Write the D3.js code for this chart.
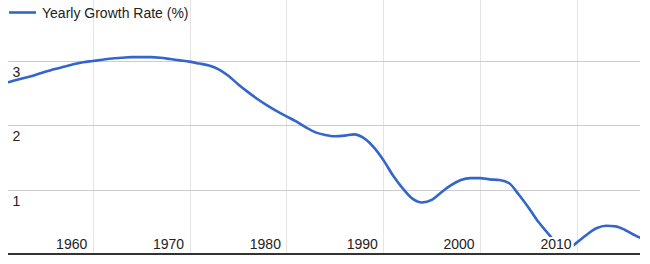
<!DOCTYPE html>
<html>
<head>
<meta charset="utf-8">
<script src="https://cdn.jsdelivr.net/npm/d3@7"></script>
<style>
  body { margin: 0; background: #fff; }
  text { font-family: Arial, "Liberation Sans", sans-serif; font-size: 14px; fill: #222; }
</style>
</head>
<body>
<svg id="chart" width="650" height="264"></svg>
<script>
const seriesName = "Yearly Growth Rate (%)";

const years = [
  1951, 1952, 1953, 1954, 1955, 1956, 1957, 1958, 1959, 1960,
  1961, 1962, 1963, 1964, 1965, 1966, 1967, 1968, 1969, 1970,
  1971, 1972, 1973, 1974, 1975, 1976, 1977, 1978, 1979, 1980,
  1981, 1982, 1983, 1984, 1985, 1986, 1987, 1988, 1989, 1990,
  1991, 1992, 1993, 1994, 1995, 1996, 1997, 1998, 1999, 2000,
  2001, 2002, 2003, 2004, 2005, 2006, 2007, 2008, 2009, 2010,
  2011, 2012, 2013, 2014, 2015, 2016, 2017
];

const growth = [
  2.66, 2.70, 2.74, 2.78, 2.83, 2.87, 2.91, 2.95, 2.98, 3.00,
  3.02, 3.04, 3.05, 3.06, 3.06, 3.06, 3.05, 3.03, 3.01, 2.99,
  2.96, 2.93, 2.87, 2.77, 2.64, 2.52, 2.41, 2.31, 2.22, 2.14,
  2.06, 1.97, 1.89, 1.85, 1.83, 1.84, 1.86, 1.80, 1.66, 1.46,
  1.22, 1.02, 0.86, 0.80, 0.84, 0.96, 1.07, 1.15, 1.18, 1.18,
  1.16, 1.15, 1.10, 0.92, 0.72, 0.50, 0.32, 0.15, 0.08, 0.18,
  0.30, 0.40, 0.44, 0.43, 0.37, 0.29, 0.22
];

const xTicks = [1960, 1970, 1980, 1990, 2000, 2010];
const yTicks = [1, 2, 3];

const data = years.map((year, i) => ({ year, value: growth[i] }));

const plotLeft = 8, plotRight = 640, plotTop = 0, plotBottom = 254;

const x = d3.scaleLinear().domain([1951.25, 2016.5]).range([plotLeft, plotRight]);
const y = d3.scaleLinear().domain([0, 3]).range([plotBottom, 61]);

const svg = d3.select("#chart");

svg.append("defs")
  .append("clipPath")
  .attr("id", "plot-clip")
  .append("rect")
  .attr("x", plotLeft)
  .attr("y", plotTop)
  .attr("width", plotRight - plotLeft)
  .attr("height", plotBottom - plotTop);

// vertical gridlines
svg.append("g")
  .selectAll("line")
  .data(xTicks)
  .enter()
  .append("line")
  .attr("x1", d => Math.round(x(d)) + 0.5)
  .attr("x2", d => Math.round(x(d)) + 0.5)
  .attr("y1", plotTop)
  .attr("y2", plotBottom)
  .attr("stroke", "#e4e4e4");

// horizontal gridlines
svg.append("g")
  .selectAll("line")
  .data(yTicks)
  .enter()
  .append("line")
  .attr("x1", plotLeft)
  .attr("x2", plotRight)
  .attr("y1", d => Math.round(y(d)) + 0.5)
  .attr("y2", d => Math.round(y(d)) + 0.5)
  .attr("stroke", "#cccccc");

// series line
const line = d3.line()
  .x(d => x(d.year))
  .y(d => y(d.value))
  .curve(d3.curveMonotoneX);

svg.append("path")
  .datum(data)
  .attr("clip-path", "url(#plot-clip)")
  .attr("d", line)
  .attr("fill", "none")
  .attr("stroke", "#3366cc")
  .attr("stroke-width", 2.6)
  .attr("stroke-linejoin", "round");

// baseline
svg.append("line")
  .attr("x1", plotLeft)
  .attr("x2", plotRight)
  .attr("y1", y(0))
  .attr("y2", y(0))
  .attr("stroke", "#333")
  .attr("stroke-width", 2);

// labels with white backing, drawn over the line
const withBacking = (g) => {
  g.each(function () {
    const b = this.getBBox();
    d3.select(this.parentNode)
      .insert("rect", () => this)
      .attr("x", b.x - 1)
      .attr("y", b.y + 1)
      .attr("width", b.width + 3)
      .attr("height", b.height - 2)
      .attr("fill", "#fff");
  });
};

const xLabels = svg.append("g");
xLabels.selectAll("text")
  .data(xTicks)
  .enter()
  .append("text")
  .attr("x", d => x(d) - 5.5)
  .attr("y", 249)
  .attr("text-anchor", "end")
  .text(d => d)
  .call(withBacking);

svg.append("g")
  .selectAll("text")
  .data(yTicks)
  .enter()
  .append("text")
  .attr("x", 12.5)
  .attr("y", d => y(d) + 16)
  .text(d => d);

// legend
const legend = svg.append("g");
legend.append("line")
  .attr("x1", 9)
  .attr("x2", 36)
  .attr("y1", 12.5)
  .attr("y2", 12.5)
  .attr("stroke", "#3366cc")
  .attr("stroke-width", 2.6);
legend.append("text")
  .attr("x", 42)
  .attr("y", 17.5)
  .text(seriesName);
</script>
</body>
</html>
